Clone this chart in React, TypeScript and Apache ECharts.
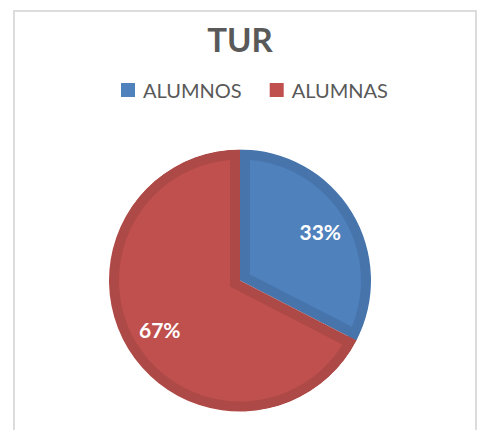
import React, { useEffect, useRef } from "react";
import * as echarts from "echarts";

const categories = ["ALUMNOS", "ALUMNAS"];
const values = [14, 29];
const fillColors = ["#4F81BD", "#C0504D"];
const edgeColors = ["#4674AB", "#AD4946"];
const titleText = "TUR";

export default function App() {
  const ref = useRef<HTMLDivElement>(null);

  useEffect(() => {
    const chart = echarts.init(ref.current!, undefined, { renderer: "svg" });
    const cx = 240;
    const cy = 280.5;
    const R = 131;
    const edge = 10;
    const total = values.reduce((a, b) => a + b, 0);

    // centers of inset slices, derived from the data angles
    let start = 90;
    const insetCenters = values.map((v) => {
      const span = (v / total) * 360;
      const mid = start - span / 2;
      start -= span;
      const half = ((span / 2) * Math.PI) / 180;
      const d = edge / Math.sin(half);
      const rad = (mid * Math.PI) / 180;
      return [cx + d * Math.cos(rad), cy - d * Math.sin(rad)];
    });

    const common = {
      type: "pie" as const,
      startAngle: 90,
      clockwise: true,
      silent: true,
      avoidLabelOverlap: false,
      label: { show: false },
      labelLine: { show: false },
      emphasis: { disabled: true },
      minAngle: 0,
    };

    const series: any[] = [];
    // dark base disc
    series.push({
      ...common,
      center: [cx, cy],
      radius: [0, R],
      data: categories.map((name, j) => ({
        name,
        value: values[j],
        itemStyle: { color: edgeColors[j] },
      })),
    });
    // inset fill slices
    categories.forEach((_, i) => {
      series.push({
        ...common,
        center: insetCenters[i],
        radius: [0, i === 0 ? 125 : 127],
        data: categories.map((name, j) => ({
          name,
          value: values[j],
          itemStyle: { color: j === i ? fillColors[i] : "rgba(0,0,0,0)" },
        })),
      });
    });
    // dark outer ring
    series.push({
      ...common,
      center: [cx, cy],
      radius: [R - edge, R],
      data: categories.map((name, j) => ({
        name,
        value: values[j],
        itemStyle: { color: edgeColors[j] },
      })),
    });
    // white cover outside
    series.push({
      ...common,
      center: [cx, cy],
      radius: [R, R + 20],
      data: categories.map((name, j) => ({
        name,
        value: values[j],
        itemStyle: { color: "#FFFFFF" },
      })),
    });
    // labels
    series.push({
      ...common,
      center: [cx, cy],
      radius: [51, R],
      percentPrecision: 0,
      label: {
        show: true,
        position: "inside",
        formatter: "{d}%",
        color: "#FFFFFF",
        fontFamily: "Lato",
        fontWeight: "bold",
        fontSize: 21,
      },
      data: categories.map((name, j) => ({
        name,
        value: values[j],
        itemStyle: { color: "rgba(0,0,0,0)" },
      })),
    });

    chart.setOption({
      animation: false,
      backgroundColor: "#FFFFFF",
      title: {
        text: titleText,
        left: "center",
        top: 22,
        padding: 0,
        textStyle: {
          fontFamily: "Lato",
          fontWeight: "bold",
          fontSize: 33,
          color: "#595959",
        },
      },
      legend: {
        left: 121,
        top: 80,
        padding: 0,
        itemWidth: 14,
        itemHeight: 14,
        itemGap: 28,
        icon: "rect",
        selectedMode: false,
        textStyle: {
          fontFamily: "Lato",
          fontSize: 20,
          color: "#595959",
          padding: [0, 0, 0, 3],
        },
        data: categories.map((n, i) => ({
          name: n,
          itemStyle: { color: fillColors[i], borderWidth: 0 },
        })),
      },
      graphic: [
        {
          type: "rect",
          silent: true,
          z: -10,
          shape: { x: 14, y: 11, width: 462, height: 440 },
          style: { fill: "none", stroke: "#DCDCDC", lineWidth: 2 },
        },
      ],
      series,
    });

    return () => {
      chart.dispose();
    };
  }, []);

  return (
    <div
      ref={ref}
      style={{ position: "absolute", left: 0, top: 0, width: 480, height: 430 }}
    />
  );
}
